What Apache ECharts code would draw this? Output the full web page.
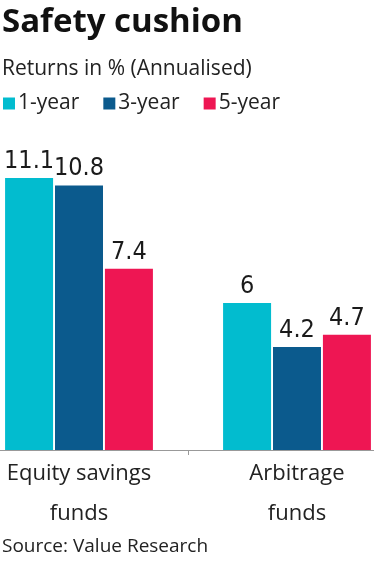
<!DOCTYPE html>
<html>
<head>
<meta charset="utf-8">
<script src="https://cdn.jsdelivr.net/npm/echarts@6/dist/echarts.min.js"></script>
<style>
html,body{margin:0;padding:0;background:#fff;}
#c{width:374px;height:561px;}
</style>
</head>
<body>
<div id="c"></div>
<script>
const categories = ['Equity savings\nfunds', 'Arbitrage\nfunds'];
const seriesNames = ['1-year', '3-year', '5-year'];
const oneYear = [11.1, 6];
const threeYear = [10.8, 4.2];
const fiveYear = [7.4, 4.7];
const colors = ['#02bccf', '#0b5a8d', '#ee1653'];

const chart = echarts.init(document.getElementById('c'), null, {renderer: 'canvas'});
const valueLabel = {
  show: true, position: 'top', distance: 4,
  fontFamily: 'DejaVu Sans Condensed', fontSize: 25, color: '#1a1a1a'
};
const dataSets = [oneYear, threeYear, fiveYear];
chart.setOption({
  animation: false,
  backgroundColor: '#fff',
  title: [
    {text: 'Safety cushion', left: 0, top: 4, padding: [2, 2],
     textStyle: {fontFamily: 'Open Sans', fontWeight: 'bold', fontSize: 33, color: '#111'}},
    {text: 'Returns in % (Annualised)', left: 0, top: 57, padding: [2, 2],
     textStyle: {fontFamily: 'Open Sans', fontWeight: 'normal', fontSize: 21, color: '#222'}},
    {text: 'Source: Value Research', left: 0, top: 535, padding: [2, 2],
     textStyle: {fontFamily: 'Open Sans', fontWeight: 'normal', fontSize: 19, color: '#222'}}
  ],
  legend: {
    left: 3, top: 93, padding: 0, icon: 'rect', itemWidth: 12, itemHeight: 12, itemGap: 24,
    textStyle: {fontFamily: 'Open Sans', fontSize: 21, color: '#222', padding: [0, 0, 0, -2]},
    data: seriesNames
  },
  grid: {left: -30, width: 436, top: 156, bottom: 111, containLabel: false, outerBoundsMode: 'none'},
  xAxis: {
    type: 'category', data: categories,
    axisLine: {lineStyle: {color: '#999', width: 1}},
    axisTick: {show: true, length: 5, lineStyle: {color: '#999'}},
    axisLabel: {fontFamily: 'Open Sans', fontSize: 22, color: '#222', lineHeight: 40, margin: 4}
  },
  yAxis: {type: 'value', min: 0, max: 12, show: false, splitLine: {show: false}},
  series: seriesNames.map((n, i) => ({
    name: n, type: 'bar', data: dataSets[i], barWidth: 48, barGap: '4%',
    itemStyle: {color: colors[i]}, label: valueLabel
  }))
});
</script>
</body>
</html>
